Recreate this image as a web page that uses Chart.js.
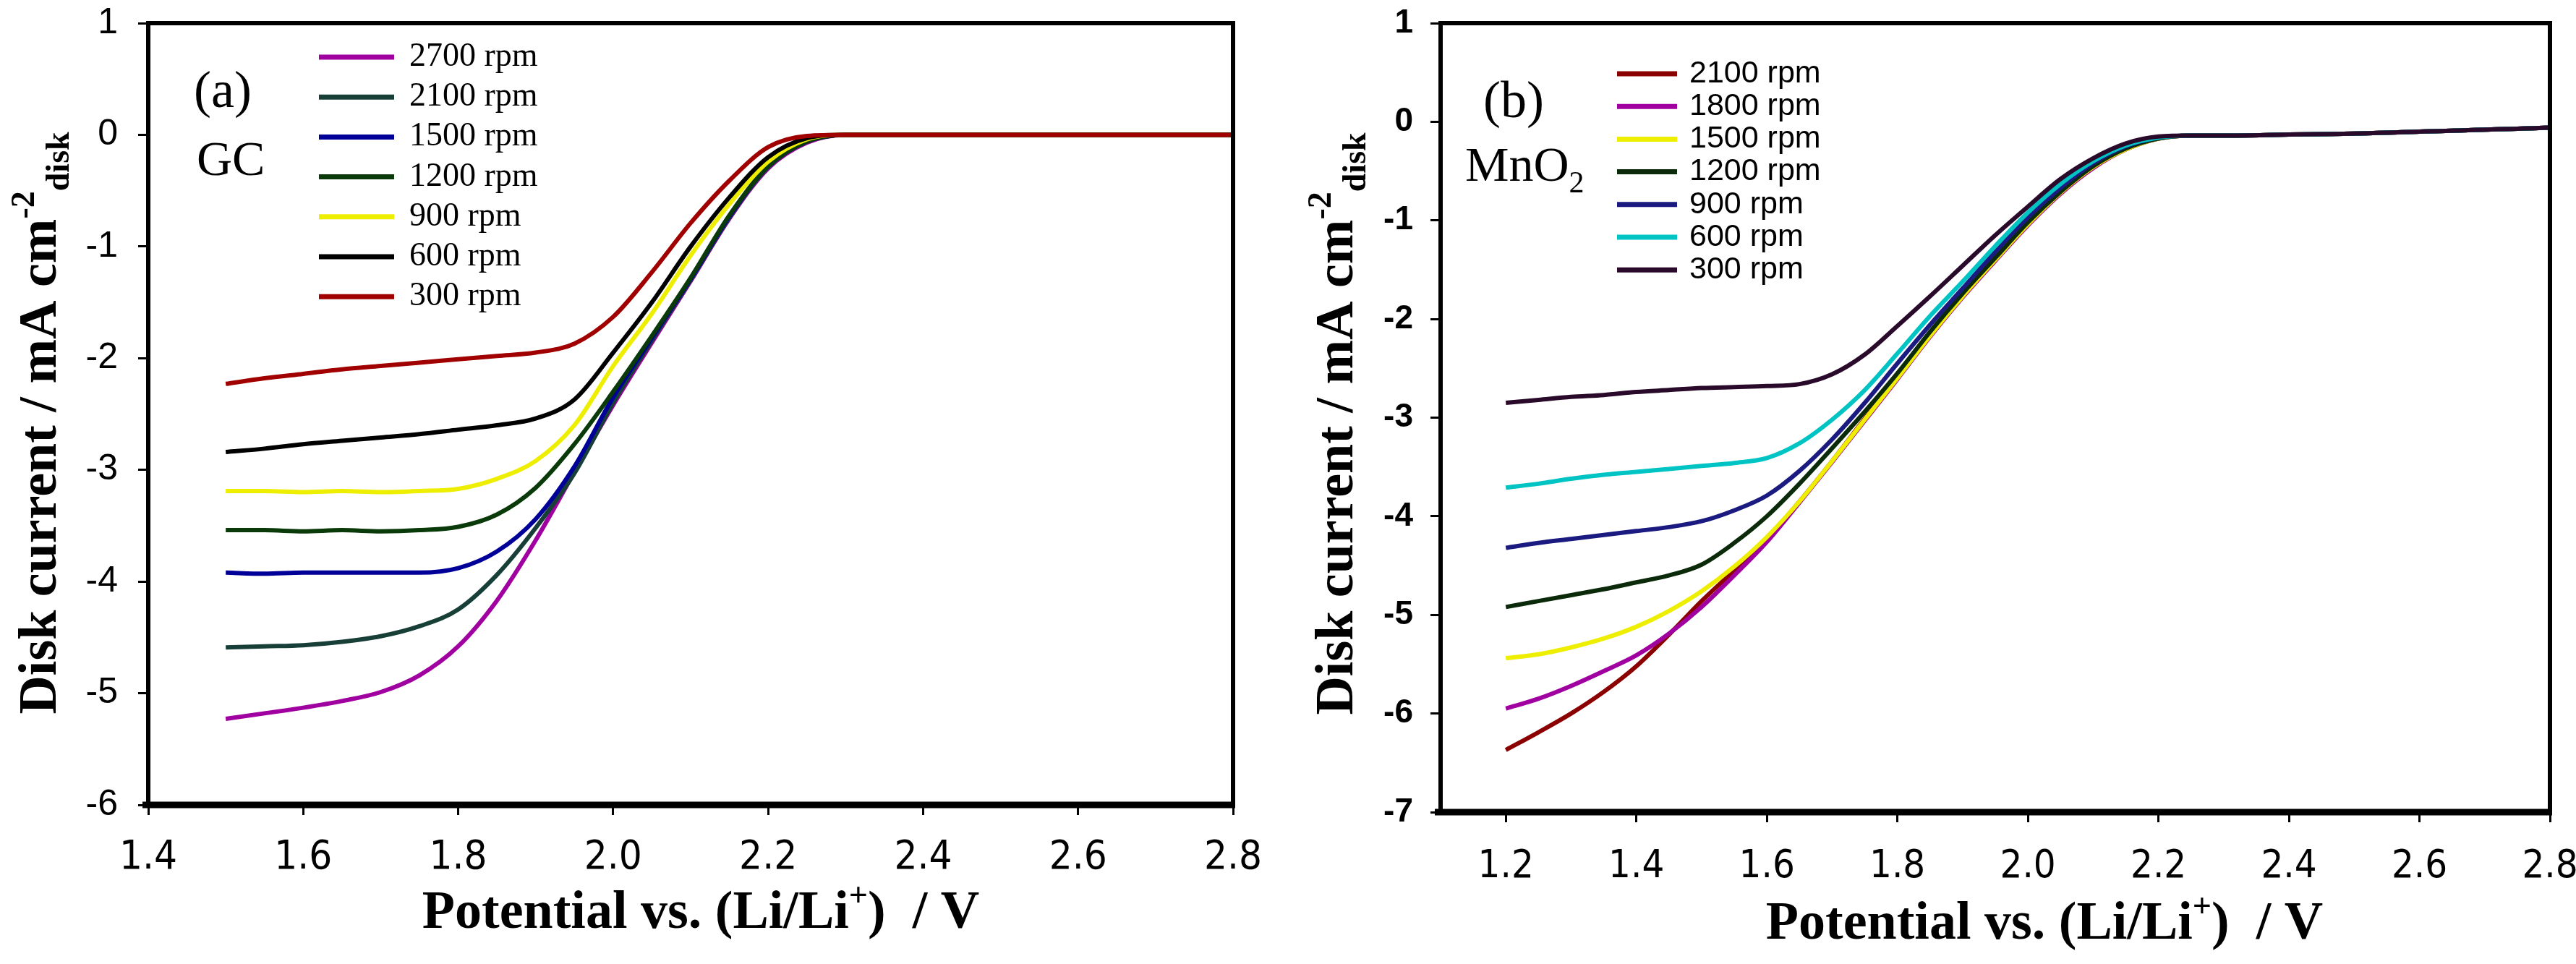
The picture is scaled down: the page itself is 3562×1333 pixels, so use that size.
<!DOCTYPE html>
<html lang="en">
<head>
    <meta charset="UTF-8">
    <title>Disk current vs potential</title>
    <style>
        body { margin: 0; background: #fff; overflow: hidden; }
        .panel { position: absolute; top: 0; }
        #wrapA { left: 0; }
        #wrapB { left: 1780px; }
    </style>
</head>
<body>
    <div class="panel" id="wrapA"><canvas id="chartA" width="1780" height="1333"></canvas></div>
    <div class="panel" id="wrapB"><canvas id="chartB" width="1782" height="1333"></canvas></div>

    <script src="https://cdn.jsdelivr.net/npm/chart.js"></script>
    <script>
        // ---- panel (a): GC ----
        const potA = [1.5, 1.55, 1.6, 1.65, 1.7, 1.75, 1.8, 1.85, 1.9, 1.95, 2.0, 2.05, 2.1, 2.15, 2.2, 2.25, 2.3, 2.4, 2.5, 2.6, 2.7, 2.8];
        const rpmA = ['2700 rpm', '2100 rpm', '1500 rpm', '1200 rpm', '900 rpm', '600 rpm', '300 rpm'];
        const a2700 = [-5.23, -5.18, -5.13, -5.07, -4.99, -4.84, -4.58, -4.17, -3.63, -3.02, -2.42, -1.86, -1.31, -0.75, -0.30, -0.07, 0, 0, 0, 0, 0, 0];
        const a2100 = [-4.59, -4.58, -4.57, -4.54, -4.49, -4.40, -4.25, -3.94, -3.52, -3.03, -2.40, -1.84, -1.30, -0.74, -0.29, -0.06, 0, 0, 0, 0, 0, 0];
        const a1500 = [-3.92, -3.93, -3.92, -3.92, -3.92, -3.92, -3.88, -3.73, -3.44, -2.97, -2.35, -1.82, -1.29, -0.73, -0.28, -0.06, 0, 0, 0, 0, 0, 0];
        const a1200 = [-3.54, -3.54, -3.55, -3.54, -3.55, -3.54, -3.51, -3.40, -3.16, -2.77, -2.30, -1.80, -1.28, -0.72, -0.28, -0.06, 0, 0, 0, 0, 0, 0];
        const a900 = [-3.19, -3.19, -3.20, -3.19, -3.20, -3.19, -3.17, -3.08, -2.92, -2.60, -2.07, -1.60, -1.08, -0.62, -0.24, -0.04, 0, 0, 0, 0, 0, 0];
        const a600 = [-2.84, -2.81, -2.77, -2.74, -2.71, -2.68, -2.64, -2.60, -2.54, -2.37, -1.95, -1.50, -1.00, -0.56, -0.20, -0.03, 0, 0, 0, 0, 0, 0];
        const a300 = [-2.23, -2.18, -2.14, -2.10, -2.07, -2.04, -2.01, -1.98, -1.95, -1.87, -1.63, -1.23, -0.79, -0.41, -0.11, -0.01, 0, 0, 0, 0, 0, 0];
        const xTicksA = [1.4, 1.6, 1.8, 2.0, 2.2, 2.4, 2.6, 2.8];
        const yTicksA = [1, 0, -1, -2, -3, -4, -5, -6];

        // ---- panel (b): MnO2 ----
        const potB = [1.2, 1.25, 1.3, 1.35, 1.4, 1.45, 1.5, 1.55, 1.6, 1.65, 1.7, 1.75, 1.8, 1.85, 1.9, 1.95, 2.0, 2.05, 2.1, 2.15, 2.2, 2.25, 2.3, 2.4, 2.5, 2.6, 2.7, 2.8];
        const rpmB = ['2100 rpm', '1800 rpm', '1500 rpm', '1200 rpm', '900 rpm', '600 rpm', '300 rpm'];
        const b2100 = [-6.37, -6.19, -6.00, -5.78, -5.52, -5.20, -4.86, -4.55, -4.23, -3.85, -3.44, -3.01, -2.59, -2.16, -1.76, -1.39, -1.03, -0.72, -0.46, -0.28, -0.17, -0.14, -0.14, -0.13, -0.12, -0.10, -0.08, -0.06];
        const b1800 = [-5.95, -5.85, -5.72, -5.57, -5.41, -5.19, -4.92, -4.60, -4.26, -3.86, -3.45, -3.03, -2.61, -2.18, -1.78, -1.41, -1.05, -0.73, -0.47, -0.28, -0.17, -0.14, -0.14, -0.13, -0.12, -0.10, -0.08, -0.06];
        const b1500 = [-5.44, -5.40, -5.33, -5.24, -5.12, -4.96, -4.76, -4.51, -4.21, -3.85, -3.44, -3.02, -2.60, -2.17, -1.77, -1.40, -1.04, -0.72, -0.46, -0.28, -0.17, -0.14, -0.14, -0.13, -0.12, -0.10, -0.08, -0.06];
        const b1200 = [-4.92, -4.86, -4.80, -4.74, -4.67, -4.60, -4.49, -4.27, -4.00, -3.67, -3.31, -2.94, -2.55, -2.13, -1.74, -1.38, -1.02, -0.71, -0.45, -0.27, -0.17, -0.14, -0.14, -0.13, -0.12, -0.10, -0.08, -0.06];
        const b900 = [-4.32, -4.27, -4.23, -4.19, -4.15, -4.11, -4.05, -3.94, -3.79, -3.54, -3.22, -2.85, -2.45, -2.06, -1.69, -1.32, -0.97, -0.67, -0.42, -0.25, -0.16, -0.14, -0.14, -0.13, -0.12, -0.10, -0.08, -0.06];
        const b600 = [-3.71, -3.67, -3.62, -3.58, -3.55, -3.52, -3.49, -3.46, -3.41, -3.26, -3.02, -2.72, -2.35, -1.97, -1.62, -1.26, -0.92, -0.63, -0.40, -0.24, -0.16, -0.14, -0.14, -0.13, -0.12, -0.10, -0.08, -0.06];
        const b300 = [-2.85, -2.82, -2.79, -2.77, -2.74, -2.72, -2.70, -2.69, -2.68, -2.66, -2.56, -2.36, -2.07, -1.77, -1.46, -1.15, -0.86, -0.58, -0.37, -0.22, -0.15, -0.14, -0.14, -0.13, -0.12, -0.10, -0.08, -0.06];
        const xTicksB = [1.2, 1.4, 1.6, 1.8, 2.0, 2.2, 2.4, 2.6, 2.8];
        const yTicksB = [1, 0, -1, -2, -3, -4, -5, -6, -7];

        // line colours
        const colA = ['#a000a0', '#173f38', '#000099', '#0a3a0a', '#eeee00', '#000000', '#a00000'];
        const colB = ['#8b0000', '#a000a0', '#eeee00', '#0a2a0a', '#1a1a80', '#00c4c4', '#2a0a2a'];

        const SERIF = "'Liberation Serif', 'Times New Roman', serif";
        const SANS = "'Liberation Sans', Arial, sans-serif";
        const NARROW = "'Liberation Sans Narrow', 'DejaVu Sans Condensed', 'Liberation Sans', sans-serif";

        function makeSets(xs, series, labels, colors) {
            return series.map((ys, i) => ({
                label: labels[i],
                data: xs.map((x, j) => ({ x: x, y: ys[j] })),
                borderColor: colors[i],
                borderWidth: 6,
                pointRadius: 0,
                fill: false,
                order: series.length - i, // last series ends up on top
                cubicInterpolationMode: 'monotone'
            }));
        }

        // text with super/subscript pieces: [text, mode] mode 1 = sup, -1 = sub
        function drawRich(ctx, segs, x, y, size, family, weight, align) {
            const fontFor = m => weight + ' ' + (m ? Math.round(size * 0.62) : size) + 'px ' + family;
            let total = 0;
            const widths = segs.map(s => {
                ctx.font = fontFor(s[1]);
                const w = ctx.measureText(s[0]).width;
                total += w;
                return w;
            });
            let cx = align === 'center' ? x - total / 2 : x;
            ctx.textAlign = 'left';
            ctx.textBaseline = 'alphabetic';
            segs.forEach((s, i) => {
                ctx.font = fontFor(s[1]);
                const dy = s[1] === 1 ? -size * 0.4 : (s[1] === -1 ? size * 0.24 : 0);
                ctx.fillText(s[0], cx, y + dy);
                cx += widths[i];
            });
        }

        const yTitle = [['Disk current / mA cm', 0], ['-2', 1], ['disk', -1]];
        const xTitle = [['Potential vs. (Li/Li', 0], ['+', 1], [')  / V', 0]];

        function decor(cfg) {
            return {
                id: 'decor',
                afterDraw(chart) {
                    const ctx = chart.ctx;
                    const a = chart.chartArea;
                    ctx.save();
                    ctx.fillStyle = '#000';
                    ctx.strokeStyle = '#000';
                    // frame
                    ctx.lineWidth = 6;
                    ctx.strokeRect(a.left, a.top, a.right - a.left, a.bottom - a.top);
                    ctx.lineWidth = 9;
                    ctx.beginPath();
                    ctx.moveTo(a.left - 8, a.bottom);
                    ctx.lineTo(a.right + 3, a.bottom);
                    ctx.stroke();

                    // axis titles
                    ctx.save();
                    ctx.translate(cfg.yTitleX, cfg.yTitleY);
                    ctx.rotate(-Math.PI / 2);
                    drawRich(ctx, yTitle, 0, 0, 74, SERIF, 'bold', 'center');
                    ctx.restore();
                    drawRich(ctx, xTitle, cfg.xTitleX, cfg.xTitleY, 74, SERIF, 'bold', 'center');

                    // panel tag and material
                    ctx.font = '72px ' + SERIF;
                    ctx.textAlign = 'left';
                    ctx.textBaseline = 'alphabetic';
                    ctx.fillText(cfg.tag, cfg.tagX, cfg.tagY);
                    drawRich(ctx, cfg.material, cfg.matX, cfg.matY, 68, SERIF, 'normal', 'left');

                    // legend
                    const L = cfg.legend;
                    chart.data.datasets.forEach((ds, i) => {
                        const y = L.y0 + i * L.dy;
                        ctx.strokeStyle = ds.borderColor;
                        ctx.lineWidth = 7;
                        ctx.beginPath();
                        ctx.moveTo(L.x0, y);
                        ctx.lineTo(L.x1, y);
                        ctx.stroke();
                        ctx.fillStyle = '#000';
                        ctx.font = L.font;
                        ctx.textBaseline = 'middle';
                        ctx.fillText(ds.label, L.tx, y);
                    });
                    ctx.restore();
                }
            };
        }

        function axisOpts(ticks, min, max, font, pad, fmt, fitKey, fitVal) {
            return {
                type: 'linear',
                min: min,
                max: max,
                afterBuildTicks: s => { s.ticks = ticks.map(v => ({ value: v })); },
                afterFit: s => {
                    s[fitKey] = fitVal;
                    // keep the plot box where layout.padding puts it
                    s.paddingTop = 0; s.paddingBottom = 0;
                    s.paddingLeft = 0; s.paddingRight = 0;
                },
                border: { display: false },
                grid: {
                    drawOnChartArea: false,
                    drawTicks: true,
                    tickLength: 14,
                    tickWidth: 3,
                    tickColor: '#000'
                },
                ticks: {
                    color: '#000',
                    font: font,
                    padding: pad,
                    autoSkip: false,
                    maxRotation: 0,
                    callback: fmt
                }
            };
        }

        function build(id, xs, series, labels, colors, xs2, sc, deco) {
            return new Chart(document.getElementById(id), {
                type: 'line',
                data: { datasets: makeSets(xs, series, labels, colors) },
                options: {
                    responsive: false,
                    animation: false,
                    devicePixelRatio: 1,
                    layout: { padding: sc.padding },
                    plugins: { legend: { display: false }, tooltip: { enabled: false } },
                    scales: {
                        x: axisOpts(xs2.x, sc.xmin, sc.xmax, sc.xfont, sc.xpad, v => v.toFixed(1), 'height', sc.xh),
                        y: axisOpts(xs2.y, sc.ymin, sc.ymax, sc.yfont, sc.ypad, v => String(v), 'width', sc.yw)
                    }
                },
                plugins: [decor(deco)]
            });
        }

        build('chartA', potA, [a2700, a2100, a1500, a1200, a900, a600, a300], rpmA, colA,
            { x: xTicksA, y: yTicksA },
            {
                padding: { left: 0, right: 75, top: 32, bottom: 0 },
                xmin: 1.4, xmax: 2.8, ymin: -6, ymax: 1,
                xfont: { family: NARROW, size: 56 }, xpad: 26, xh: 220,
                yfont: { family: SANS, size: 50 }, ypad: 28, yw: 205
            },
            {
                yTitleX: 77, yTitleY: 585, xTitleX: 969, xTitleY: 1283,
                tag: '(a)', tagX: 268, tagY: 148,
                material: [['GC', 0]], matX: 272, matY: 242,
                legend: { x0: 441, x1: 545, tx: 566, y0: 79, dy: 55.2, font: '46px ' + SERIF }
            });

        build('chartB', potB, [b2100, b1800, b1500, b1200, b900, b600, b300], rpmB, colB,
            { x: xTicksB, y: yTicksB },
            {
                padding: { left: 0, right: 36, top: 32, bottom: 0 },
                xmin: 1.1, xmax: 2.8, ymin: -7, ymax: 1,
                xfont: { family: NARROW, size: 54 }, xpad: 30, xh: 210,
                yfont: { family: SANS, size: 46, weight: 'bold' }, ypad: 24, yw: 212
            },
            {
                yTitleX: 90, yTitleY: 586, xTitleX: 1047, xTitleY: 1298,
                tag: '(b)', tagX: 271, tagY: 162,
                material: [['MnO', 0], ['2', -1]], matX: 246, matY: 250,
                legend: { x0: 456, x1: 539, tx: 556, y0: 102, dy: 45.2, font: '43px ' + SANS }
            });
    </script>
</body>
</html>
